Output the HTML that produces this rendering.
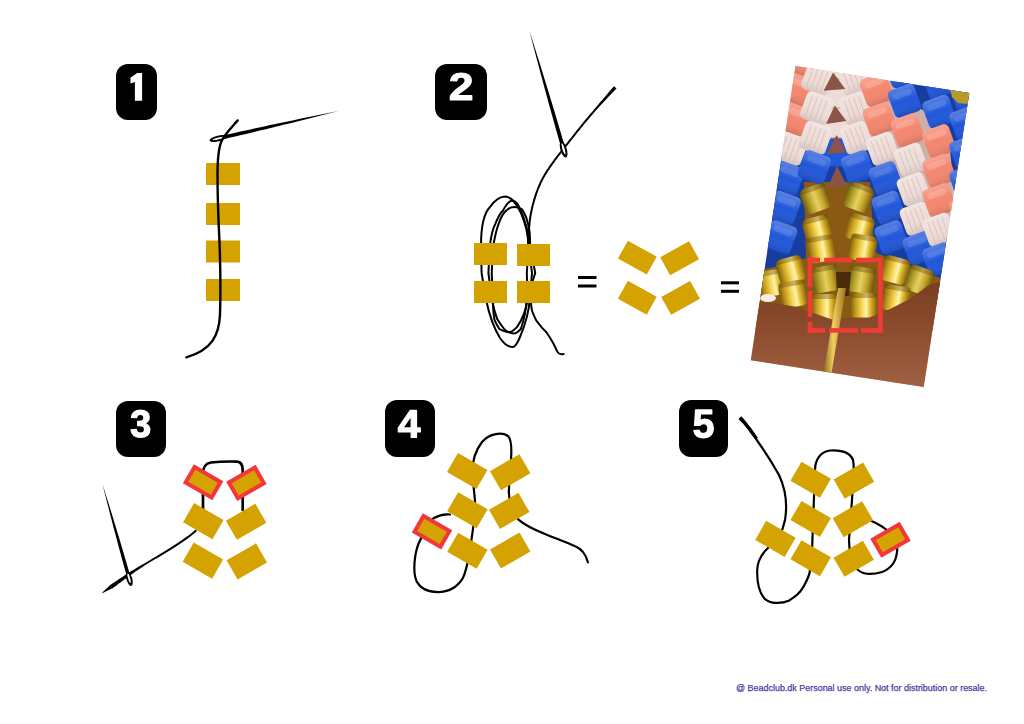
<!DOCTYPE html>
<html><head><meta charset="utf-8"><style>
html,body{margin:0;padding:0;background:#fff;}
body{width:1024px;height:724px;position:relative;overflow:hidden;font-family:"Liberation Sans",sans-serif;}
svg{position:absolute;left:0;top:0;}
</style></head><body>
<svg width="1024" height="724" viewBox="0 0 1024 724">
<clipPath id="pc"><polygon points="795.5,66.0 969.3,92.9 923.7,386.9 750.8,360.2"/></clipPath>
<linearGradient id="brg" x1="0" y1="0" x2="0" y2="1"><stop offset="0" stop-color="#7A3E20"/><stop offset="0.4" stop-color="#8B4B2C"/><stop offset="1" stop-color="#A5654A"/></linearGradient>
<linearGradient id="wire" x1="0" y1="0" x2="1" y2="0"><stop offset="0" stop-color="#8A6418"/><stop offset="0.45" stop-color="#F2CF60"/><stop offset="1" stop-color="#9A7020"/></linearGradient>
<radialGradient id="gb" cx="0.45" cy="0.4" r="0.6"><stop offset="0" stop-color="#FBE58A"/><stop offset="0.35" stop-color="#E2B52E"/><stop offset="0.8" stop-color="#B0851C"/><stop offset="1" stop-color="#7A5614"/></radialGradient>
<radialGradient id="gb2" cx="0.5" cy="0.45" r="0.6"><stop offset="0" stop-color="#E9D27A"/><stop offset="0.4" stop-color="#C8A535"/><stop offset="0.85" stop-color="#9A7A1C"/><stop offset="1" stop-color="#6A4A12"/></radialGradient>
<g clip-path="url(#pc)">
<rect x="740" y="60" width="250" height="340" fill="#CDB0AA"/>
<polygon points="740,165 800,150 836,155 870,150 900,180 930,230 990,250 990,300 740,300" fill="#173E9E"/>
<polygon points="895,70 990,80 990,200 955,200 950,150 935,118 915,105 900,95" fill="#173E9E"/>
<polygon points="804,182 870,182 874,252 945,280 945,330 750,330 750,272 790,264 806,258" fill="#8A5A14"/>
<rect x="822" y="50" width="28" height="28" rx="5" fill="#EEDCD8"/>
<rect x="822" y="79.5" width="28" height="28" rx="5" fill="#EEDCD8"/>
<rect x="822" y="109" width="28" height="28" rx="5" fill="#EEDCD8"/>
<rect x="822" y="138.5" width="28" height="28" rx="5" fill="#2157D8"/>
<linearGradient id="shw" x1="0" y1="0" x2="0" y2="1"><stop offset="0" stop-color="#fff" stop-opacity="0.25"/><stop offset="0.5" stop-color="#fff" stop-opacity="0"/><stop offset="1" stop-color="#000" stop-opacity="0.12"/></linearGradient>
<g transform="translate(760.3,189.3) rotate(20)"><rect x="-14" y="-14.5" width="28" height="29" rx="5" fill="#2157D8"/><rect x="-14" y="-14.5" width="28" height="29" rx="5" fill="url(#shw)"/><rect x="-10" y="-10" width="20" height="6" rx="3" fill="#6A90EC" opacity="0.45"/></g>
<g transform="translate(756.7,218.8) rotate(20)"><rect x="-14" y="-14.5" width="28" height="29" rx="5" fill="#2157D8"/><rect x="-14" y="-14.5" width="28" height="29" rx="5" fill="url(#shw)"/><rect x="-10" y="-10" width="20" height="6" rx="3" fill="#6A90EC" opacity="0.45"/></g>
<g transform="translate(753.2,248.3) rotate(20)"><rect x="-14" y="-14.5" width="28" height="29" rx="5" fill="#2157D8"/><rect x="-14" y="-14.5" width="28" height="29" rx="5" fill="url(#shw)"/><rect x="-10" y="-10" width="20" height="6" rx="3" fill="#6A90EC" opacity="0.45"/></g>
<g transform="translate(763.8,159.8) rotate(20)"><rect x="-14" y="-14.5" width="28" height="29" rx="5" fill="#EEDCD8"/><rect x="-14" y="-14.5" width="28" height="29" rx="5" fill="url(#shw)"/><line x1="-8" y1="-11" x2="-8" y2="11" stroke="#C9ADA7" stroke-width="0.8" opacity="0.6"/><line x1="-3" y1="-11" x2="-3" y2="11" stroke="#C9ADA7" stroke-width="0.8" opacity="0.6"/><line x1="2" y1="-11" x2="2" y2="11" stroke="#C9ADA7" stroke-width="0.8" opacity="0.6"/><line x1="7" y1="-11" x2="7" y2="11" stroke="#C9ADA7" stroke-width="0.8" opacity="0.6"/></g>
<g transform="translate(767.4,130.3) rotate(20)"><rect x="-14" y="-14.5" width="28" height="29" rx="5" fill="#F4866E"/><rect x="-14" y="-14.5" width="28" height="29" rx="5" fill="url(#shw)"/><rect x="-10" y="-10" width="20" height="6" rx="3" fill="#FDBBA8" opacity="0.45"/></g>
<g transform="translate(801.8,60.3) rotate(20)"><rect x="-14" y="-14.5" width="28" height="29" rx="5" fill="#F4866E"/><rect x="-14" y="-14.5" width="28" height="29" rx="5" fill="url(#shw)"/><rect x="-10" y="-10" width="20" height="6" rx="3" fill="#FDBBA8" opacity="0.45"/></g>
<g transform="translate(798.2,89.8) rotate(20)"><rect x="-14" y="-14.5" width="28" height="29" rx="5" fill="#F4866E"/><rect x="-14" y="-14.5" width="28" height="29" rx="5" fill="url(#shw)"/><rect x="-10" y="-10" width="20" height="6" rx="3" fill="#FDBBA8" opacity="0.45"/></g>
<g transform="translate(794.7,119.3) rotate(20)"><rect x="-14" y="-14.5" width="28" height="29" rx="5" fill="#F4866E"/><rect x="-14" y="-14.5" width="28" height="29" rx="5" fill="url(#shw)"/><rect x="-10" y="-10" width="20" height="6" rx="3" fill="#FDBBA8" opacity="0.45"/></g>
<g transform="translate(791.1,148.8) rotate(20)"><rect x="-14" y="-14.5" width="28" height="29" rx="5" fill="#EEDCD8"/><rect x="-14" y="-14.5" width="28" height="29" rx="5" fill="url(#shw)"/><line x1="-8" y1="-11" x2="-8" y2="11" stroke="#C9ADA7" stroke-width="0.8" opacity="0.6"/><line x1="-3" y1="-11" x2="-3" y2="11" stroke="#C9ADA7" stroke-width="0.8" opacity="0.6"/><line x1="2" y1="-11" x2="2" y2="11" stroke="#C9ADA7" stroke-width="0.8" opacity="0.6"/><line x1="7" y1="-11" x2="7" y2="11" stroke="#C9ADA7" stroke-width="0.8" opacity="0.6"/></g>
<g transform="translate(787.6,178.3) rotate(20)"><rect x="-14" y="-14.5" width="28" height="29" rx="5" fill="#2157D8"/><rect x="-14" y="-14.5" width="28" height="29" rx="5" fill="url(#shw)"/><rect x="-10" y="-10" width="20" height="6" rx="3" fill="#6A90EC" opacity="0.45"/></g>
<g transform="translate(784.1,207.8) rotate(20)"><rect x="-14" y="-14.5" width="28" height="29" rx="5" fill="#2157D8"/><rect x="-14" y="-14.5" width="28" height="29" rx="5" fill="url(#shw)"/><rect x="-10" y="-10" width="20" height="6" rx="3" fill="#6A90EC" opacity="0.45"/></g>
<g transform="translate(780.5,237.3) rotate(20)"><rect x="-14" y="-14.5" width="28" height="29" rx="5" fill="#2157D8"/><rect x="-14" y="-14.5" width="28" height="29" rx="5" fill="url(#shw)"/><rect x="-10" y="-10" width="20" height="6" rx="3" fill="#6A90EC" opacity="0.45"/></g>
<g transform="translate(819.0,49.3) rotate(20)"><rect x="-14" y="-14.5" width="28" height="29" rx="5" fill="#EEDCD8"/><rect x="-14" y="-14.5" width="28" height="29" rx="5" fill="url(#shw)"/><line x1="-8" y1="-11" x2="-8" y2="11" stroke="#C9ADA7" stroke-width="0.8" opacity="0.6"/><line x1="-3" y1="-11" x2="-3" y2="11" stroke="#C9ADA7" stroke-width="0.8" opacity="0.6"/><line x1="2" y1="-11" x2="2" y2="11" stroke="#C9ADA7" stroke-width="0.8" opacity="0.6"/><line x1="7" y1="-11" x2="7" y2="11" stroke="#C9ADA7" stroke-width="0.8" opacity="0.6"/></g>
<g transform="translate(817.8,78.8) rotate(20)"><rect x="-14" y="-14.5" width="28" height="29" rx="5" fill="#EEDCD8"/><rect x="-14" y="-14.5" width="28" height="29" rx="5" fill="url(#shw)"/><line x1="-8" y1="-11" x2="-8" y2="11" stroke="#C9ADA7" stroke-width="0.8" opacity="0.6"/><line x1="-3" y1="-11" x2="-3" y2="11" stroke="#C9ADA7" stroke-width="0.8" opacity="0.6"/><line x1="2" y1="-11" x2="2" y2="11" stroke="#C9ADA7" stroke-width="0.8" opacity="0.6"/><line x1="7" y1="-11" x2="7" y2="11" stroke="#C9ADA7" stroke-width="0.8" opacity="0.6"/></g>
<g transform="translate(816.7,108.3) rotate(20)"><rect x="-14" y="-14.5" width="28" height="29" rx="5" fill="#EEDCD8"/><rect x="-14" y="-14.5" width="28" height="29" rx="5" fill="url(#shw)"/><line x1="-8" y1="-11" x2="-8" y2="11" stroke="#C9ADA7" stroke-width="0.8" opacity="0.6"/><line x1="-3" y1="-11" x2="-3" y2="11" stroke="#C9ADA7" stroke-width="0.8" opacity="0.6"/><line x1="2" y1="-11" x2="2" y2="11" stroke="#C9ADA7" stroke-width="0.8" opacity="0.6"/><line x1="7" y1="-11" x2="7" y2="11" stroke="#C9ADA7" stroke-width="0.8" opacity="0.6"/></g>
<g transform="translate(815.5,137.8) rotate(20)"><rect x="-14" y="-14.5" width="28" height="29" rx="5" fill="#EEDCD8"/><rect x="-14" y="-14.5" width="28" height="29" rx="5" fill="url(#shw)"/><line x1="-8" y1="-11" x2="-8" y2="11" stroke="#C9ADA7" stroke-width="0.8" opacity="0.6"/><line x1="-3" y1="-11" x2="-3" y2="11" stroke="#C9ADA7" stroke-width="0.8" opacity="0.6"/><line x1="2" y1="-11" x2="2" y2="11" stroke="#C9ADA7" stroke-width="0.8" opacity="0.6"/><line x1="7" y1="-11" x2="7" y2="11" stroke="#C9ADA7" stroke-width="0.8" opacity="0.6"/></g>
<g transform="translate(814.3,167.3) rotate(20)"><rect x="-14" y="-14.5" width="28" height="29" rx="5" fill="#2157D8"/><rect x="-14" y="-14.5" width="28" height="29" rx="5" fill="url(#shw)"/><rect x="-10" y="-10" width="20" height="6" rx="3" fill="#6A90EC" opacity="0.45"/></g>
<g transform="translate(853.0,49.3) rotate(-20)"><rect x="-14" y="-14.5" width="28" height="29" rx="5" fill="#EEDCD8"/><rect x="-14" y="-14.5" width="28" height="29" rx="5" fill="url(#shw)"/><line x1="-8" y1="-11" x2="-8" y2="11" stroke="#C9ADA7" stroke-width="0.8" opacity="0.6"/><line x1="-3" y1="-11" x2="-3" y2="11" stroke="#C9ADA7" stroke-width="0.8" opacity="0.6"/><line x1="2" y1="-11" x2="2" y2="11" stroke="#C9ADA7" stroke-width="0.8" opacity="0.6"/><line x1="7" y1="-11" x2="7" y2="11" stroke="#C9ADA7" stroke-width="0.8" opacity="0.6"/></g>
<g transform="translate(854.2,78.8) rotate(-20)"><rect x="-14" y="-14.5" width="28" height="29" rx="5" fill="#EEDCD8"/><rect x="-14" y="-14.5" width="28" height="29" rx="5" fill="url(#shw)"/><line x1="-8" y1="-11" x2="-8" y2="11" stroke="#C9ADA7" stroke-width="0.8" opacity="0.6"/><line x1="-3" y1="-11" x2="-3" y2="11" stroke="#C9ADA7" stroke-width="0.8" opacity="0.6"/><line x1="2" y1="-11" x2="2" y2="11" stroke="#C9ADA7" stroke-width="0.8" opacity="0.6"/><line x1="7" y1="-11" x2="7" y2="11" stroke="#C9ADA7" stroke-width="0.8" opacity="0.6"/></g>
<g transform="translate(855.3,108.3) rotate(-20)"><rect x="-14" y="-14.5" width="28" height="29" rx="5" fill="#EEDCD8"/><rect x="-14" y="-14.5" width="28" height="29" rx="5" fill="url(#shw)"/><line x1="-8" y1="-11" x2="-8" y2="11" stroke="#C9ADA7" stroke-width="0.8" opacity="0.6"/><line x1="-3" y1="-11" x2="-3" y2="11" stroke="#C9ADA7" stroke-width="0.8" opacity="0.6"/><line x1="2" y1="-11" x2="2" y2="11" stroke="#C9ADA7" stroke-width="0.8" opacity="0.6"/><line x1="7" y1="-11" x2="7" y2="11" stroke="#C9ADA7" stroke-width="0.8" opacity="0.6"/></g>
<g transform="translate(856.5,137.8) rotate(-20)"><rect x="-14" y="-14.5" width="28" height="29" rx="5" fill="#EEDCD8"/><rect x="-14" y="-14.5" width="28" height="29" rx="5" fill="url(#shw)"/><line x1="-8" y1="-11" x2="-8" y2="11" stroke="#C9ADA7" stroke-width="0.8" opacity="0.6"/><line x1="-3" y1="-11" x2="-3" y2="11" stroke="#C9ADA7" stroke-width="0.8" opacity="0.6"/><line x1="2" y1="-11" x2="2" y2="11" stroke="#C9ADA7" stroke-width="0.8" opacity="0.6"/><line x1="7" y1="-11" x2="7" y2="11" stroke="#C9ADA7" stroke-width="0.8" opacity="0.6"/></g>
<g transform="translate(857.7,167.3) rotate(-20)"><rect x="-14" y="-14.5" width="28" height="29" rx="5" fill="#2157D8"/><rect x="-14" y="-14.5" width="28" height="29" rx="5" fill="url(#shw)"/><rect x="-10" y="-10" width="20" height="6" rx="3" fill="#6A90EC" opacity="0.45"/></g>
<g transform="translate(873.5,60.3) rotate(-20)"><rect x="-14" y="-14.5" width="28" height="29" rx="5" fill="#F4866E"/><rect x="-14" y="-14.5" width="28" height="29" rx="5" fill="url(#shw)"/><rect x="-10" y="-10" width="20" height="6" rx="3" fill="#FDBBA8" opacity="0.45"/></g>
<g transform="translate(876.5,89.8) rotate(-20)"><rect x="-14" y="-14.5" width="28" height="29" rx="5" fill="#F4866E"/><rect x="-14" y="-14.5" width="28" height="29" rx="5" fill="url(#shw)"/><rect x="-10" y="-10" width="20" height="6" rx="3" fill="#FDBBA8" opacity="0.45"/></g>
<g transform="translate(879.4,119.3) rotate(-20)"><rect x="-14" y="-14.5" width="28" height="29" rx="5" fill="#F4866E"/><rect x="-14" y="-14.5" width="28" height="29" rx="5" fill="url(#shw)"/><rect x="-10" y="-10" width="20" height="6" rx="3" fill="#FDBBA8" opacity="0.45"/></g>
<g transform="translate(882.4,148.8) rotate(-20)"><rect x="-14" y="-14.5" width="28" height="29" rx="5" fill="#EEDCD8"/><rect x="-14" y="-14.5" width="28" height="29" rx="5" fill="url(#shw)"/><line x1="-8" y1="-11" x2="-8" y2="11" stroke="#C9ADA7" stroke-width="0.8" opacity="0.6"/><line x1="-3" y1="-11" x2="-3" y2="11" stroke="#C9ADA7" stroke-width="0.8" opacity="0.6"/><line x1="2" y1="-11" x2="2" y2="11" stroke="#C9ADA7" stroke-width="0.8" opacity="0.6"/><line x1="7" y1="-11" x2="7" y2="11" stroke="#C9ADA7" stroke-width="0.8" opacity="0.6"/></g>
<g transform="translate(885.3,178.3) rotate(-20)"><rect x="-14" y="-14.5" width="28" height="29" rx="5" fill="#2157D8"/><rect x="-14" y="-14.5" width="28" height="29" rx="5" fill="url(#shw)"/><rect x="-10" y="-10" width="20" height="6" rx="3" fill="#6A90EC" opacity="0.45"/></g>
<g transform="translate(888.3,207.8) rotate(-20)"><rect x="-14" y="-14.5" width="28" height="29" rx="5" fill="#2157D8"/><rect x="-14" y="-14.5" width="28" height="29" rx="5" fill="url(#shw)"/><rect x="-10" y="-10" width="20" height="6" rx="3" fill="#6A90EC" opacity="0.45"/></g>
<g transform="translate(891.2,237.3) rotate(-20)"><rect x="-14" y="-14.5" width="28" height="29" rx="5" fill="#2157D8"/><rect x="-14" y="-14.5" width="28" height="29" rx="5" fill="url(#shw)"/><rect x="-10" y="-10" width="20" height="6" rx="3" fill="#6A90EC" opacity="0.45"/></g>
<g transform="translate(901.6,71.3) rotate(-20)"><rect x="-14" y="-14.5" width="28" height="29" rx="5" fill="#2157D8"/><rect x="-14" y="-14.5" width="28" height="29" rx="5" fill="url(#shw)"/><rect x="-10" y="-10" width="20" height="6" rx="3" fill="#6A90EC" opacity="0.45"/></g>
<g transform="translate(904.6,100.8) rotate(-20)"><rect x="-14" y="-14.5" width="28" height="29" rx="5" fill="#2157D8"/><rect x="-14" y="-14.5" width="28" height="29" rx="5" fill="url(#shw)"/><rect x="-10" y="-10" width="20" height="6" rx="3" fill="#6A90EC" opacity="0.45"/></g>
<g transform="translate(907.5,130.3) rotate(-20)"><rect x="-14" y="-14.5" width="28" height="29" rx="5" fill="#F4866E"/><rect x="-14" y="-14.5" width="28" height="29" rx="5" fill="url(#shw)"/><rect x="-10" y="-10" width="20" height="6" rx="3" fill="#FDBBA8" opacity="0.45"/></g>
<g transform="translate(910.5,159.8) rotate(-20)"><rect x="-14" y="-14.5" width="28" height="29" rx="5" fill="#EEDCD8"/><rect x="-14" y="-14.5" width="28" height="29" rx="5" fill="url(#shw)"/><line x1="-8" y1="-11" x2="-8" y2="11" stroke="#C9ADA7" stroke-width="0.8" opacity="0.6"/><line x1="-3" y1="-11" x2="-3" y2="11" stroke="#C9ADA7" stroke-width="0.8" opacity="0.6"/><line x1="2" y1="-11" x2="2" y2="11" stroke="#C9ADA7" stroke-width="0.8" opacity="0.6"/><line x1="7" y1="-11" x2="7" y2="11" stroke="#C9ADA7" stroke-width="0.8" opacity="0.6"/></g>
<g transform="translate(913.4,189.3) rotate(-20)"><rect x="-14" y="-14.5" width="28" height="29" rx="5" fill="#EEDCD8"/><rect x="-14" y="-14.5" width="28" height="29" rx="5" fill="url(#shw)"/><line x1="-8" y1="-11" x2="-8" y2="11" stroke="#C9ADA7" stroke-width="0.8" opacity="0.6"/><line x1="-3" y1="-11" x2="-3" y2="11" stroke="#C9ADA7" stroke-width="0.8" opacity="0.6"/><line x1="2" y1="-11" x2="2" y2="11" stroke="#C9ADA7" stroke-width="0.8" opacity="0.6"/><line x1="7" y1="-11" x2="7" y2="11" stroke="#C9ADA7" stroke-width="0.8" opacity="0.6"/></g>
<g transform="translate(916.4,218.8) rotate(-20)"><rect x="-14" y="-14.5" width="28" height="29" rx="5" fill="#EEDCD8"/><rect x="-14" y="-14.5" width="28" height="29" rx="5" fill="url(#shw)"/><line x1="-8" y1="-11" x2="-8" y2="11" stroke="#C9ADA7" stroke-width="0.8" opacity="0.6"/><line x1="-3" y1="-11" x2="-3" y2="11" stroke="#C9ADA7" stroke-width="0.8" opacity="0.6"/><line x1="2" y1="-11" x2="2" y2="11" stroke="#C9ADA7" stroke-width="0.8" opacity="0.6"/><line x1="7" y1="-11" x2="7" y2="11" stroke="#C9ADA7" stroke-width="0.8" opacity="0.6"/></g>
<g transform="translate(919.3,248.3) rotate(-20)"><rect x="-14" y="-14.5" width="28" height="29" rx="5" fill="#2157D8"/><rect x="-14" y="-14.5" width="28" height="29" rx="5" fill="url(#shw)"/><rect x="-10" y="-10" width="20" height="6" rx="3" fill="#6A90EC" opacity="0.45"/></g>
<g transform="translate(939.0,82.3) rotate(-20)"><rect x="-14" y="-14.5" width="28" height="29" rx="5" fill="#2157D8"/><rect x="-14" y="-14.5" width="28" height="29" rx="5" fill="url(#shw)"/><rect x="-10" y="-10" width="20" height="6" rx="3" fill="#6A90EC" opacity="0.45"/></g>
<g transform="translate(939.0,111.8) rotate(-20)"><rect x="-14" y="-14.5" width="28" height="29" rx="5" fill="#2157D8"/><rect x="-14" y="-14.5" width="28" height="29" rx="5" fill="url(#shw)"/><rect x="-10" y="-10" width="20" height="6" rx="3" fill="#6A90EC" opacity="0.45"/></g>
<g transform="translate(939.0,141.3) rotate(-20)"><rect x="-14" y="-14.5" width="28" height="29" rx="5" fill="#F4866E"/><rect x="-14" y="-14.5" width="28" height="29" rx="5" fill="url(#shw)"/><rect x="-10" y="-10" width="20" height="6" rx="3" fill="#FDBBA8" opacity="0.45"/></g>
<g transform="translate(939.0,170.8) rotate(-20)"><rect x="-14" y="-14.5" width="28" height="29" rx="5" fill="#F4866E"/><rect x="-14" y="-14.5" width="28" height="29" rx="5" fill="url(#shw)"/><rect x="-10" y="-10" width="20" height="6" rx="3" fill="#FDBBA8" opacity="0.45"/></g>
<g transform="translate(939.0,200.3) rotate(-20)"><rect x="-14" y="-14.5" width="28" height="29" rx="5" fill="#F4866E"/><rect x="-14" y="-14.5" width="28" height="29" rx="5" fill="url(#shw)"/><rect x="-10" y="-10" width="20" height="6" rx="3" fill="#FDBBA8" opacity="0.45"/></g>
<g transform="translate(939.0,229.8) rotate(-20)"><rect x="-14" y="-14.5" width="28" height="29" rx="5" fill="#EEDCD8"/><rect x="-14" y="-14.5" width="28" height="29" rx="5" fill="url(#shw)"/><line x1="-8" y1="-11" x2="-8" y2="11" stroke="#C9ADA7" stroke-width="0.8" opacity="0.6"/><line x1="-3" y1="-11" x2="-3" y2="11" stroke="#C9ADA7" stroke-width="0.8" opacity="0.6"/><line x1="2" y1="-11" x2="2" y2="11" stroke="#C9ADA7" stroke-width="0.8" opacity="0.6"/><line x1="7" y1="-11" x2="7" y2="11" stroke="#C9ADA7" stroke-width="0.8" opacity="0.6"/></g>
<g transform="translate(939.0,259.3) rotate(-20)"><rect x="-14" y="-14.5" width="28" height="29" rx="5" fill="#2157D8"/><rect x="-14" y="-14.5" width="28" height="29" rx="5" fill="url(#shw)"/><rect x="-10" y="-10" width="20" height="6" rx="3" fill="#6A90EC" opacity="0.45"/></g>
<g transform="translate(966.0,63.8) rotate(-20)"><rect x="-14" y="-14.5" width="28" height="29" rx="5" fill="#2157D8"/><rect x="-14" y="-14.5" width="28" height="29" rx="5" fill="url(#shw)"/><rect x="-10" y="-10" width="20" height="6" rx="3" fill="#6A90EC" opacity="0.45"/></g>
<g transform="translate(966.0,93.3) rotate(-20)"><rect x="-14" y="-14.5" width="28" height="29" rx="5" fill="#2157D8"/><rect x="-14" y="-14.5" width="28" height="29" rx="5" fill="url(#shw)"/><rect x="-10" y="-10" width="20" height="6" rx="3" fill="#6A90EC" opacity="0.45"/></g>
<g transform="translate(966.0,122.8) rotate(-20)"><rect x="-14" y="-14.5" width="28" height="29" rx="5" fill="#2157D8"/><rect x="-14" y="-14.5" width="28" height="29" rx="5" fill="url(#shw)"/><rect x="-10" y="-10" width="20" height="6" rx="3" fill="#6A90EC" opacity="0.45"/></g>
<g transform="translate(966.0,152.3) rotate(-20)"><rect x="-14" y="-14.5" width="28" height="29" rx="5" fill="#2157D8"/><rect x="-14" y="-14.5" width="28" height="29" rx="5" fill="url(#shw)"/><rect x="-10" y="-10" width="20" height="6" rx="3" fill="#6A90EC" opacity="0.45"/></g>
<g transform="translate(966.0,181.8) rotate(-20)"><rect x="-14" y="-14.5" width="28" height="29" rx="5" fill="#2157D8"/><rect x="-14" y="-14.5" width="28" height="29" rx="5" fill="url(#shw)"/><rect x="-10" y="-10" width="20" height="6" rx="3" fill="#6A90EC" opacity="0.45"/></g>
<g transform="translate(966.0,211.3) rotate(-20)"><rect x="-14" y="-14.5" width="28" height="29" rx="5" fill="#F4866E"/><rect x="-14" y="-14.5" width="28" height="29" rx="5" fill="url(#shw)"/><rect x="-10" y="-10" width="20" height="6" rx="3" fill="#FDBBA8" opacity="0.45"/></g>
<g transform="translate(966.0,240.8) rotate(-20)"><rect x="-14" y="-14.5" width="28" height="29" rx="5" fill="#EEDCD8"/><rect x="-14" y="-14.5" width="28" height="29" rx="5" fill="url(#shw)"/><line x1="-8" y1="-11" x2="-8" y2="11" stroke="#C9ADA7" stroke-width="0.8" opacity="0.6"/><line x1="-3" y1="-11" x2="-3" y2="11" stroke="#C9ADA7" stroke-width="0.8" opacity="0.6"/><line x1="2" y1="-11" x2="2" y2="11" stroke="#C9ADA7" stroke-width="0.8" opacity="0.6"/><line x1="7" y1="-11" x2="7" y2="11" stroke="#C9ADA7" stroke-width="0.8" opacity="0.6"/></g>
<g transform="translate(966.0,270.3) rotate(-20)"><rect x="-14" y="-14.5" width="28" height="29" rx="5" fill="#EEDCD8"/><rect x="-14" y="-14.5" width="28" height="29" rx="5" fill="url(#shw)"/><line x1="-8" y1="-11" x2="-8" y2="11" stroke="#C9ADA7" stroke-width="0.8" opacity="0.6"/><line x1="-3" y1="-11" x2="-3" y2="11" stroke="#C9ADA7" stroke-width="0.8" opacity="0.6"/><line x1="2" y1="-11" x2="2" y2="11" stroke="#C9ADA7" stroke-width="0.8" opacity="0.6"/><line x1="7" y1="-11" x2="7" y2="11" stroke="#C9ADA7" stroke-width="0.8" opacity="0.6"/></g>
<polygon points="950,88 972,91 968,104 958,103 952,97" fill="#B89A2A"/>
<polygon points="833.1,72.5 845.3,89.1 823.7,90.7" fill="#8C5446"/>
<polygon points="834.8,105.6 846.4,121.1 826.0,123.9" fill="#8C5446"/>
<polygon points="836.6,135.0 846.0,152.5 827.0,154.0" fill="#8C5446"/>
<polygon points="837.0,166.0 847.0,186.0 828.0,187.0" fill="#8C5446"/>
<linearGradient id="gcyl" x1="0" y1="0" x2="1" y2="0"><stop offset="0" stop-color="#7A5A0E"/><stop offset="0.22" stop-color="#C8A020"/><stop offset="0.45" stop-color="#F6DA58"/><stop offset="0.6" stop-color="#FFF3B0"/><stop offset="0.75" stop-color="#E2B82A"/><stop offset="1" stop-color="#80600E"/></linearGradient>
<linearGradient id="gcyl2" x1="0" y1="0" x2="1" y2="0"><stop offset="0" stop-color="#6E5A10"/><stop offset="0.25" stop-color="#B0A028"/><stop offset="0.5" stop-color="#E8D060"/><stop offset="0.75" stop-color="#C0A028"/><stop offset="1" stop-color="#6E5410"/></linearGradient>
<g transform="translate(815.5,198.7) rotate(-20)"><rect x="-13.5" y="-13" width="27" height="26" rx="6" fill="url(#gcyl2)"/><rect x="-13.5" y="-13" width="27" height="5" rx="2.5" fill="#5A3A08" opacity="0.35"/></g>
<g transform="translate(858.5,197.4) rotate(20)"><rect x="-13.5" y="-13" width="27" height="26" rx="6" fill="url(#gcyl2)"/><rect x="-13.5" y="-13" width="27" height="5" rx="2.5" fill="#5A3A08" opacity="0.35"/></g>
<g transform="translate(817.4,229.7) rotate(-15)"><rect x="-13.5" y="-13" width="27" height="26" rx="6" fill="url(#gcyl)"/><rect x="-13.5" y="-13" width="27" height="5" rx="2.5" fill="#5A3A08" opacity="0.35"/></g>
<g transform="translate(859.7,228) rotate(15)"><rect x="-13.5" y="-13" width="27" height="26" rx="6" fill="url(#gcyl)"/><rect x="-13.5" y="-13" width="27" height="5" rx="2.5" fill="#5A3A08" opacity="0.35"/></g>
<g transform="translate(821,249) rotate(-10)"><rect x="-13.5" y="-13" width="27" height="26" rx="6" fill="url(#gcyl)"/><rect x="-13.5" y="-13" width="27" height="5" rx="2.5" fill="#5A3A08" opacity="0.35"/></g>
<g transform="translate(862.6,248) rotate(10)"><rect x="-13.5" y="-13" width="27" height="26" rx="6" fill="url(#gcyl)"/><rect x="-13.5" y="-13" width="27" height="5" rx="2.5" fill="#5A3A08" opacity="0.35"/></g>
<g transform="translate(772,283) rotate(-10)"><rect x="-13.5" y="-13" width="27" height="26" rx="6" fill="url(#gcyl)"/><rect x="-13.5" y="-13" width="27" height="5" rx="2.5" fill="#5A3A08" opacity="0.35"/></g>
<g transform="translate(791,270) rotate(-15)"><rect x="-13.5" y="-13" width="27" height="26" rx="6" fill="url(#gcyl)"/><rect x="-13.5" y="-13" width="27" height="5" rx="2.5" fill="#5A3A08" opacity="0.35"/></g>
<g transform="translate(793,294) rotate(-10)"><rect x="-13.5" y="-13" width="27" height="26" rx="6" fill="url(#gcyl)"/><rect x="-13.5" y="-13" width="27" height="5" rx="2.5" fill="#5A3A08" opacity="0.35"/></g>
<g transform="translate(919,280) rotate(20)"><rect x="-13.5" y="-13" width="27" height="26" rx="6" fill="url(#gcyl2)"/><rect x="-13.5" y="-13" width="27" height="5" rx="2.5" fill="#5A3A08" opacity="0.35"/></g>
<g transform="translate(895,270) rotate(15)"><rect x="-13.5" y="-13" width="27" height="26" rx="6" fill="url(#gcyl)"/><rect x="-13.5" y="-13" width="27" height="5" rx="2.5" fill="#5A3A08" opacity="0.35"/></g>
<g transform="translate(896,298.5) rotate(10)"><rect x="-13.5" y="-13" width="27" height="26" rx="6" fill="url(#gcyl)"/><rect x="-13.5" y="-13" width="27" height="5" rx="2.5" fill="#5A3A08" opacity="0.35"/></g>
<g transform="translate(825.5,279) rotate(-10)"><rect x="-13.5" y="-13" width="27" height="26" rx="6" fill="url(#gcyl2)"/><rect x="-13.5" y="-13" width="27" height="5" rx="2.5" fill="#5A3A08" opacity="0.35"/></g>
<g transform="translate(861,280) rotate(10)"><rect x="-13.5" y="-13" width="27" height="26" rx="6" fill="url(#gcyl2)"/><rect x="-13.5" y="-13" width="27" height="5" rx="2.5" fill="#5A3A08" opacity="0.35"/></g>
<g transform="translate(824.5,307) rotate(0)"><rect x="-13.5" y="-13" width="27" height="26" rx="6" fill="url(#gcyl)"/><rect x="-13.5" y="-13" width="27" height="5" rx="2.5" fill="#5A3A08" opacity="0.35"/></g>
<g transform="translate(863.5,306) rotate(0)"><rect x="-13.5" y="-13" width="27" height="26" rx="6" fill="url(#gcyl)"/><rect x="-13.5" y="-13" width="27" height="5" rx="2.5" fill="#5A3A08" opacity="0.35"/></g>
<polygon points="836,272 851,272 849,296 837,296" fill="#3A2008" opacity="0.8"/>
<polygon points="740.0,302.0 772.0,302.5 796.8,307.0 813.4,313.0 832.0,319.5 848.6,317.5 869.4,317.5 890.0,309.0 910.8,298.5 927.4,286.0 945.0,280.0 990.0,280.0 990.0,400.0 740.0,400.0" fill="url(#brg)"/>
<ellipse cx="768" cy="298" rx="8" ry="4" fill="#F4ECE6"/>
<path d="M838,288 L846,288 L831,376 L823,376 Z" fill="url(#wire)"/>
</g>
<line x1="807.7" y1="260" x2="820" y2="260" stroke="#F23A36" stroke-width="4.6"/>
<line x1="824.2" y1="260" x2="852.2" y2="260" stroke="#F23A36" stroke-width="4.6"/>
<line x1="856" y1="260" x2="882.7" y2="260" stroke="#F23A36" stroke-width="4.6"/>
<line x1="810" y1="257.7" x2="810" y2="287.3" stroke="#F23A36" stroke-width="4.6"/>
<line x1="810" y1="291" x2="810" y2="317" stroke="#F23A36" stroke-width="4.6"/>
<line x1="810" y1="322" x2="810" y2="332.7" stroke="#F23A36" stroke-width="4.6"/>
<line x1="880.4" y1="257.7" x2="880.4" y2="332.7" stroke="#F23A36" stroke-width="4.6"/>
<line x1="807.7" y1="330.4" x2="825" y2="330.4" stroke="#F23A36" stroke-width="4.6"/>
<line x1="829" y1="330.4" x2="858" y2="330.4" stroke="#F23A36" stroke-width="4.6"/>
<line x1="861" y1="330.4" x2="882.7" y2="330.4" stroke="#F23A36" stroke-width="4.6"/>
<rect x="116" y="64" width="41" height="56" rx="12" ry="12" fill="#000"/>
<path d="M142.1,73 L137.2,73 L130.5,77.7 L130.5,83.4 L134.9,81.9 L134.9,100.8 L142.1,100.8 Z" fill="#fff"/>
<rect x="435" y="64" width="52" height="56" rx="12" ry="12" fill="#000"/>
<path d="M71 0V195Q126 316 227.5 431.0Q329 546 483 671Q631 791 690.5 869.0Q750 947 750 1022Q750 1206 565 1206Q475 1206 427.5 1157.5Q380 1109 366 1012L83 1028Q107 1224 229.5 1327.0Q352 1430 563 1430Q791 1430 913.0 1326.0Q1035 1222 1035 1034Q1035 935 996.0 855.0Q957 775 896.0 707.5Q835 640 760.5 581.0Q686 522 616.0 466.0Q546 410 488.5 353.0Q431 296 403 231H1057V0Z" transform="translate(448.752,100.000) scale(0.021805,-0.018881)" fill="#fff" stroke="#fff" stroke-width="1.2" vector-effect="non-scaling-stroke" stroke-linejoin="round"/>
<rect x="116" y="401" width="50" height="56" rx="12" ry="12" fill="#000"/>
<path d="M1065 391Q1065 193 935.0 85.0Q805 -23 565 -23Q338 -23 204.0 81.5Q70 186 47 383L333 408Q360 205 564 205Q665 205 721.0 255.0Q777 305 777 408Q777 502 709.0 552.0Q641 602 507 602H409V829H501Q622 829 683.0 878.5Q744 928 744 1020Q744 1107 695.5 1156.5Q647 1206 554 1206Q467 1206 413.5 1158.0Q360 1110 352 1022L71 1042Q93 1224 222.0 1327.0Q351 1430 559 1430Q780 1430 904.5 1330.5Q1029 1231 1029 1055Q1029 923 951.5 838.0Q874 753 728 725V721Q890 702 977.5 614.5Q1065 527 1065 391Z" transform="translate(130.023,436.968) scale(0.018664,-0.018789)" fill="#fff" stroke="#fff" stroke-width="1.2" vector-effect="non-scaling-stroke" stroke-linejoin="round"/>
<rect x="385" y="400" width="50" height="57" rx="12" ry="12" fill="#000"/>
<path d="M940 287V0H672V287H31V498L626 1409H940V496H1128V287ZM672 957Q672 1011 675.5 1074.0Q679 1137 681 1155Q655 1099 587 993L260 496H672Z" transform="translate(397.678,437.400) scale(0.020055,-0.019163)" fill="#fff" stroke="#fff" stroke-width="1.2" vector-effect="non-scaling-stroke" stroke-linejoin="round"/>
<rect x="679" y="400" width="49" height="57" rx="12" ry="12" fill="#000"/>
<path d="M1082 469Q1082 245 942.5 112.5Q803 -20 560 -20Q348 -20 220.5 75.5Q93 171 63 352L344 375Q366 285 422.0 244.0Q478 203 563 203Q668 203 730.5 270.0Q793 337 793 463Q793 574 734.0 640.5Q675 707 569 707Q452 707 378 616H104L153 1409H1000V1200H408L385 844Q487 934 640 934Q841 934 961.5 809.0Q1082 684 1082 469Z" transform="translate(692.588,437.410) scale(0.019235,-0.019524)" fill="#fff" stroke="#fff" stroke-width="1.2" vector-effect="non-scaling-stroke" stroke-linejoin="round"/>
<rect x="206" y="163" width="34" height="22" fill="#D4A302"/>
<rect x="206" y="203" width="34" height="22" fill="#D4A302"/>
<rect x="206" y="240.5" width="34" height="22" fill="#D4A302"/>
<rect x="206" y="279" width="34" height="22" fill="#D4A302"/>
<path d="M220.44,139.90 L225.38,138.76 L230.31,137.62 L235.24,136.47 L240.17,135.31 L245.10,134.14 L250.02,132.97 L254.95,131.80 L259.87,130.62 L264.80,129.43 L269.72,128.23 L274.64,127.04 L279.56,125.83 L284.48,124.62 L289.39,123.41 L294.31,122.19 L299.22,120.97 L304.14,119.74 L309.05,118.50 L313.96,117.26 L318.87,116.02 L323.78,114.77 L328.69,113.52 L333.59,112.26 L338.50,111.00 L338.50,111.00 L333.53,112.00 L328.57,113.00 L323.60,114.00 L318.64,115.01 L313.68,116.03 L308.72,117.04 L303.76,118.07 L298.80,119.10 L293.84,120.13 L288.88,121.17 L283.92,122.21 L278.97,123.26 L274.02,124.31 L269.06,125.37 L264.11,126.44 L259.16,127.51 L254.21,128.58 L249.27,129.66 L244.32,130.75 L239.38,131.85 L234.43,132.95 L229.49,134.05 L224.55,135.17 L219.62,136.29Z" fill="#000"/>
<ellipse cx="218.3" cy="138.5" rx="9.0" ry="2.9" transform="rotate(-12.9 218.3 138.5)" fill="#000"/>
<ellipse cx="218.8" cy="138.4" rx="6.4" ry="0.8" transform="rotate(-12.9 218.8 138.4)" fill="#fff"/>
<path d="M237.7,120.4 C232,127 226,133 222,140 C219,146 217.5,160 217.5,175 C217.5,200 218.5,222 219.5,242 C220.5,270 220.5,300 220,315 C219,335 212,350 186.4,357.3" fill="none" stroke="#000" stroke-width="2.4" stroke-linecap="round" stroke-linejoin="round"/>
<path d="M481,246 C481,232 483,214 490,207 C495,200 500,196.6 505.4,196.6 C511,197 517,204 521,213 C525,222 528,232 528.6,246 L532,273 L529.6,300 C529,312 525,325 520,337 C517,344 515,347 513,347 C509,347 504,344 500,338 C495,330 490,318 486.1,300 L481.6,273 Z" fill="none" stroke="#000" stroke-width="2.0" stroke-linecap="round" stroke-linejoin="round"/>
<path d="M489.9,246 C491,236 493,228 495.4,223.7 C498,217 500,213 503,210.4 C506,205 509,200.5 512.5,200.5 C515,201 516,202 517.5,203.8 C520,208 521,212 523,216 C525,222 527,228 527.5,231.4 L528.6,246 L526.8,273 L527.6,300 C526,310 522,320 516.9,327.1 C514,330 512,332 510,332 C507,332 505,330 504.2,329 C501,325 499,322 497.3,319.3 C495,313 493,306 492,300 L488.4,273 Z" fill="none" stroke="#000" stroke-width="2.0" stroke-linecap="round" stroke-linejoin="round"/>
<path d="M493.2,246 C495,236 497,228 498.7,223.7 C501,217 503,213 506.5,210.4 C509,208 511,207 514.2,207 C517,207 520,208 522,209.3 C524,212 525,215 526.4,218 C528,223 529,228 529.7,232.5 L530.2,246 L535.2,273 L526.6,300 C526,310 524,320 520.8,329 C518,332 516,333.5 514,333.5 C510,333 508,332 507.1,332 C503,331 501,330 499.3,329 C497,325 495,322 494.4,319.3 C493,312 493,306 493,300 L491.7,273 Z" fill="none" stroke="#000" stroke-width="2.0" stroke-linecap="round" stroke-linejoin="round"/>
<path d="M531,300 C531,308 532,312 533.5,314.4 C535,318 536,321 538.4,323.2 C541,327 543,329 546.2,332 C549,336 551,339 553,342.7 C555,346 556,350 557.9,352.5 C559,354 561,354.5 563.7,354" fill="none" stroke="#000" stroke-width="2.0" stroke-linecap="round" stroke-linejoin="round"/>
<path d="M614.05,86.15 L612.56,87.86 L611.07,89.58 L609.59,91.29 L608.11,93.01 L606.63,94.72 L605.16,96.44 L603.69,98.17 L602.23,99.89 L600.77,101.61 L599.31,103.34 L597.86,105.06 L596.42,106.79 L594.96,108.50 L593.49,110.19 L592.03,111.88 L590.57,113.58 L589.13,115.28 L587.69,116.97 L586.26,118.67 L584.84,120.37 L583.42,122.07 L582.02,123.77 L580.63,125.47 L579.25,127.17 L577.88,128.88 L576.52,130.58 L575.17,132.28 L573.84,133.99 L572.52,135.69 L571.21,137.38 L569.64,139.36 L568.09,141.30 L566.57,143.20 L565.08,145.07 L563.63,146.90 L562.22,148.70 L560.84,150.47 L559.49,152.20 L558.17,153.91 L556.89,155.58 L555.65,157.23 L554.44,158.84 L553.26,160.44 L552.12,162.00 L551.01,163.55 L549.94,165.07 L548.90,166.56 L547.90,168.04 L546.93,169.50 L546.00,170.94 L545.11,172.37 L544.25,173.78 L543.42,175.17 L542.63,176.55 L541.88,177.92 L541.17,179.28 L540.49,180.62 L539.85,181.96 L539.24,183.29 L538.68,184.60 L538.23,185.61 L537.77,186.67 L537.31,187.76 L536.87,188.88 L536.42,190.02 L535.99,191.19 L535.56,192.37 L535.14,193.58 L534.73,194.81 L534.33,196.05 L533.93,197.30 L533.54,198.57 L533.17,199.85 L532.80,201.13 L532.45,202.43 L532.10,203.73 L531.77,205.03 L531.45,206.33 L531.14,207.63 L530.85,208.93 L530.56,210.23 L530.30,211.52 L530.04,212.80 L529.80,214.07 L529.58,215.33 L529.37,216.57 L529.18,217.81 L529.00,219.02 L528.85,220.21 L528.71,221.39 L528.62,222.25 L528.53,223.10 L528.45,223.94 L528.38,224.79 L528.31,225.63 L528.24,226.47 L528.18,227.30 L528.12,228.13 L528.07,228.96 L528.02,229.79 L527.97,230.62 L527.93,231.44 L527.88,232.26 L527.85,233.08 L527.81,233.90 L527.78,234.71 L527.75,235.53 L527.73,236.34 L527.71,237.15 L527.69,237.96 L527.67,238.77 L527.65,239.57 L527.64,240.38 L527.63,241.18 L527.62,241.99 L527.61,242.79 L527.61,243.59 L527.60,244.40 L527.60,245.20 L527.60,246.00 L529.60,246.00 L529.60,245.20 L529.60,244.40 L529.61,243.61 L529.61,242.81 L529.62,242.01 L529.63,241.21 L529.64,240.41 L529.65,239.61 L529.67,238.81 L529.68,238.00 L529.70,237.20 L529.73,236.40 L529.75,235.59 L529.78,234.79 L529.81,233.98 L529.85,233.17 L529.88,232.36 L529.92,231.54 L529.97,230.73 L530.01,229.91 L530.06,229.09 L530.12,228.27 L530.18,227.45 L530.24,226.62 L530.30,225.79 L530.37,224.96 L530.45,224.13 L530.52,223.29 L530.61,222.45 L530.69,221.61 L530.83,220.46 L530.99,219.29 L531.16,218.10 L531.35,216.89 L531.55,215.67 L531.77,214.43 L532.01,213.18 L532.26,211.91 L532.52,210.64 L532.80,209.37 L533.09,208.08 L533.39,206.80 L533.71,205.51 L534.04,204.23 L534.38,202.95 L534.73,201.67 L535.09,200.40 L535.46,199.14 L535.84,197.89 L536.23,196.66 L536.63,195.43 L537.03,194.23 L537.45,193.04 L537.87,191.88 L538.29,190.73 L538.73,189.61 L539.17,188.52 L539.61,187.45 L540.06,186.42 L540.52,185.40 L541.07,184.10 L541.66,182.81 L542.28,181.51 L542.95,180.19 L543.64,178.87 L544.38,177.53 L545.15,176.18 L545.96,174.81 L546.81,173.42 L547.69,172.02 L548.61,170.60 L549.56,169.16 L550.55,167.69 L551.58,166.21 L552.64,164.70 L553.74,163.17 L554.87,161.62 L556.04,160.04 L557.25,158.43 L558.48,156.79 L559.76,155.12 L561.07,153.43 L562.41,151.70 L563.79,149.94 L565.20,148.14 L566.65,146.31 L568.13,144.45 L569.65,142.54 L571.20,140.60 L572.79,138.62 L574.10,136.91 L575.41,135.22 L576.74,133.52 L578.09,131.82 L579.44,130.13 L580.80,128.43 L582.18,126.74 L583.57,125.04 L584.96,123.35 L586.37,121.65 L587.79,119.96 L589.21,118.26 L590.65,116.57 L592.09,114.88 L593.55,113.19 L595.00,111.50 L596.47,109.81 L597.96,108.14 L599.48,106.49 L601.01,104.84 L602.55,103.19 L604.09,101.55 L605.63,99.91 L607.18,98.26 L608.73,96.62 L610.29,94.98 L611.85,93.35 L613.42,91.71 L614.98,90.08 L616.55,88.45Z" fill="#000"/>
<rect x="474" y="243" width="33" height="22" fill="#D4A302"/>
<rect x="517" y="244" width="33" height="22" fill="#D4A302"/>
<rect x="474" y="281" width="33" height="22" fill="#D4A302"/>
<rect x="517" y="281" width="33" height="22" fill="#D4A302"/>
<path d="M565.00,147.17 L563.58,142.29 L562.15,137.40 L560.72,132.52 L559.28,127.64 L557.83,122.77 L556.38,117.89 L554.92,113.02 L553.45,108.15 L551.98,103.28 L550.51,98.41 L549.02,93.54 L547.54,88.67 L546.04,83.81 L544.55,78.95 L543.04,74.09 L541.54,69.23 L540.02,64.37 L538.51,59.51 L536.98,54.66 L535.46,49.80 L533.92,44.95 L532.39,40.10 L530.85,35.25 L529.30,30.40 L529.30,30.40 L530.58,35.33 L531.86,40.25 L533.14,45.18 L534.43,50.10 L535.73,55.02 L537.03,59.94 L538.33,64.86 L539.64,69.77 L540.96,74.69 L542.28,79.60 L543.60,84.51 L544.93,89.43 L546.27,94.34 L547.61,99.24 L548.96,104.15 L550.31,109.05 L551.66,113.96 L553.03,118.86 L554.40,123.76 L555.77,128.66 L557.15,133.55 L558.54,138.45 L559.94,143.34 L561.34,148.23Z" fill="#000"/>
<ellipse cx="563.6" cy="149.3" rx="8.5" ry="3.2" transform="rotate(-106.1 563.6 149.3)" fill="#000"/>
<ellipse cx="563.5" cy="148.9" rx="5.9" ry="1.1" transform="rotate(-106.1 563.5 148.9)" fill="#fff"/>
<rect x="578" y="276" width="18.5" height="3" fill="#000"/><rect x="578" y="284.5" width="18.5" height="3" fill="#000"/>
<rect x="721" y="281.3" width="18" height="3" fill="#000"/><rect x="721" y="289.8" width="18" height="3" fill="#000"/>
<rect x="-16.5" y="-10.25" width="33" height="20.5" fill="#D4A302" transform="translate(637.3,257.6) rotate(29)"/>
<rect x="-16.5" y="-10.25" width="33" height="20.5" fill="#D4A302" transform="translate(679.6,258.2) rotate(-29)"/>
<rect x="-16.5" y="-10.25" width="33" height="20.5" fill="#D4A302" transform="translate(637.3,297.7) rotate(29)"/>
<rect x="-16.5" y="-10.25" width="33" height="20.5" fill="#D4A302" transform="translate(680.6,297.9) rotate(-29)"/>
<path d="M203,510 L203,474 C203,467 205,463.5 211,462.5 C220,461.5 230,461.4 237,461.6 C241,462 242.7,465 242.7,470 L242.7,510" fill="none" stroke="#000" stroke-width="2.7" stroke-linecap="round" stroke-linejoin="round"/>
<path d="M195.64,529.55 L193.97,531.01 L192.23,532.47 L190.40,533.93 L188.50,535.40 L186.52,536.87 L184.47,538.34 L182.36,539.81 L180.19,541.29 L177.97,542.77 L175.69,544.25 L173.38,545.73 L171.02,547.22 L168.63,548.70 L166.21,550.19 L163.77,551.68 L161.30,553.17 L158.83,554.67 L156.34,556.16 L153.84,557.66 L151.35,559.15 L148.86,560.65 L146.38,562.15 L143.91,563.65 L141.42,565.08 L138.96,566.53 L136.52,567.97 L134.12,569.41 L131.76,570.86 L129.43,572.31 L127.16,573.76 L126.12,574.45 L125.11,575.12 L124.09,575.79 L123.08,576.46 L122.07,577.13 L121.07,577.79 L120.08,578.45 L119.09,579.11 L118.11,579.76 L117.13,580.40 L116.17,581.03 L115.22,581.66 L114.29,582.28 L113.36,582.89 L112.45,583.49 L111.56,584.08 L110.68,584.66 L109.91,585.36 L109.17,586.05 L108.44,586.73 L107.73,587.38 L107.03,588.02 L106.36,588.64 L105.71,589.24 L105.08,589.82 L104.47,590.38 L103.88,590.91 L103.32,591.42 L102.79,591.91 L102.28,592.37 L102.72,593.03 L103.34,592.73 L103.99,592.41 L104.68,592.08 L105.39,591.73 L106.13,591.36 L106.90,590.98 L107.70,590.58 L108.52,590.17 L109.36,589.75 L110.23,589.32 L111.12,588.87 L112.03,588.41 L112.96,587.94 L113.81,587.32 L114.67,586.68 L115.55,586.04 L116.45,585.38 L117.35,584.72 L118.27,584.04 L119.20,583.36 L120.14,582.66 L121.08,581.97 L122.04,581.26 L123.00,580.55 L123.97,579.84 L124.94,579.12 L125.92,578.40 L126.90,577.68 L127.88,576.95 L128.84,576.24 L131.02,574.69 L133.25,573.14 L135.52,571.59 L137.83,570.03 L140.17,568.48 L142.55,566.92 L144.95,565.36 L147.41,563.86 L149.89,562.36 L152.38,560.87 L154.87,559.37 L157.37,557.88 L159.86,556.38 L162.34,554.89 L164.81,553.39 L167.26,551.90 L169.68,550.41 L172.08,548.91 L174.45,547.42 L176.78,545.93 L179.07,544.44 L181.31,542.95 L183.50,541.46 L185.63,539.97 L187.70,538.48 L189.70,536.99 L191.64,535.51 L193.50,534.02 L195.28,532.53 L196.96,531.05Z" fill="#000"/>
<rect x="-17.0" y="-11.0" width="34" height="22" fill="#D4A302" transform="translate(203.3,521.1) rotate(30)"/>
<rect x="-17.0" y="-11.0" width="34" height="22" fill="#D4A302" transform="translate(246.1,521.8) rotate(-30)"/>
<rect x="-17.0" y="-11.0" width="34" height="22" fill="#D4A302" transform="translate(202.9,560.6) rotate(30)"/>
<rect x="-17.0" y="-11.0" width="34" height="22" fill="#D4A302" transform="translate(246.8,561.4) rotate(-30)"/>
<g transform="translate(203.1,482.3) rotate(30)"><rect x="-17.0" y="-11.0" width="34" height="22" fill="#F2363A"/><rect x="-13.0" y="-7.0" width="26" height="14" fill="#D4A302"/></g>
<g transform="translate(246.4,482.9) rotate(-30)"><rect x="-17.0" y="-11.0" width="34" height="22" fill="#F2363A"/><rect x="-13.0" y="-7.0" width="26" height="14" fill="#D4A302"/></g>
<path d="M130.49,576.88 L129.38,572.99 L128.27,569.11 L127.16,565.23 L126.03,561.36 L124.90,557.48 L123.77,553.61 L122.62,549.73 L121.48,545.86 L120.33,541.99 L119.17,538.12 L118.01,534.26 L116.84,530.39 L115.67,526.53 L114.50,522.66 L113.32,518.80 L112.13,514.94 L110.94,511.08 L109.75,507.22 L108.55,503.37 L107.35,499.51 L106.14,495.66 L104.93,491.80 L103.72,487.95 L102.50,484.10 L102.50,484.10 L103.48,488.02 L104.46,491.94 L105.44,495.85 L106.43,499.77 L107.43,503.68 L108.43,507.60 L109.43,511.51 L110.44,515.42 L111.45,519.33 L112.46,523.24 L113.48,527.14 L114.51,531.05 L115.54,534.95 L116.57,538.86 L117.61,542.76 L118.66,546.66 L119.71,550.56 L120.76,554.45 L121.82,558.35 L122.89,562.24 L123.96,566.14 L125.04,570.03 L126.12,573.92 L127.22,577.80Z" fill="#000"/>
<ellipse cx="129.3" cy="578.8" rx="7.5" ry="2.9" transform="rotate(-105.8 129.3 578.8)" fill="#000"/>
<ellipse cx="129.1" cy="578.3" rx="4.9" ry="1.0" transform="rotate(-105.8 129.1 578.3)" fill="#fff"/>
<path d="M587.9,562.3 C586,555 582,549 574.7,546.1 C568,543.2 556,538.5 545,534 C535,530 525,525.5 518.2,519.4 C512,512 509,500 508.8,492 L510,470 C511.7,456 512,440 508,436 C502,432 490,433 482,442 C476,450 472.6,458.9 472.6,470 C473,490 476,500 475,510 C474,525 472,535 470,550 C468,562 466,572 462.7,578.4 C458,586 450,592 437.8,592.2 C428,592 420,588 416.5,581 C413.5,574 414,566 415,558 C416,550 418,544 420.7,539.1 C424,531 428,522 434,518 C440,514.5 446,514 450,514.5" fill="none" stroke="#000" stroke-width="2.2" stroke-linecap="round" stroke-linejoin="round"/>
<rect x="-17.0" y="-11.0" width="34" height="22" fill="#D4A302" transform="translate(467.2,471) rotate(30)"/>
<rect x="-17.0" y="-11.0" width="34" height="22" fill="#D4A302" transform="translate(510.2,472.2) rotate(-30)"/>
<rect x="-17.0" y="-11.0" width="34" height="22" fill="#D4A302" transform="translate(467.4,510.2) rotate(30)"/>
<rect x="-17.0" y="-11.0" width="34" height="22" fill="#D4A302" transform="translate(509.2,510.9) rotate(-30)"/>
<rect x="-17.0" y="-11.0" width="34" height="22" fill="#D4A302" transform="translate(467.4,550.7) rotate(30)"/>
<rect x="-17.0" y="-11.0" width="34" height="22" fill="#D4A302" transform="translate(510.2,550.5) rotate(-30)"/>
<g transform="translate(432,531.4) rotate(30)"><rect x="-17.0" y="-11.0" width="34" height="22" fill="#F2363A"/><rect x="-13.0" y="-7.0" width="26" height="14" fill="#D4A302"/></g>
<path d="M745,424 C755,437 768,455 779,475 C787,492 787,508 785,520 C783,530 778,540 770,546 C762,553 757.5,562 757.2,570 C757,578 757,590 764.4,598.5 C768,602 772,603 776.5,602.9 C782,603 786,602 788.7,600.7 C795,597 800,593 803,587.5 C806,582 809,577 809.7,572 C811,562 812.4,552 812.4,540 L815,470 C815,460 820,452 830,450.5 C840,449.5 850,452 853,460 C855,468 853,480 852,500 L849,540 C849,552 852,565 858,570 C864,575 872,575 882,572 C890,569 896,562 897,552 C898,545 895,538 890,533 C885,528 878,524 871.6,521.1" fill="none" stroke="#000" stroke-width="2.2" stroke-linecap="round" stroke-linejoin="round"/>
<path d="M738.46,419.08 L738.98,419.60 L739.51,420.12 L740.05,420.66 L740.59,421.20 L741.14,421.76 L741.69,422.32 L742.25,422.90 L742.82,423.49 L743.39,424.09 L743.96,424.70 L744.54,425.32 L745.12,425.95 L745.71,426.60 L746.30,427.25 L746.89,427.91 L747.49,428.59 L748.09,429.28 L748.69,429.97 L749.30,430.68 L749.91,431.40 L750.52,432.12 L751.13,432.86 L751.75,433.61 L752.37,434.37 L752.99,435.14 L753.61,435.92 L754.23,436.70 L754.85,437.50 L755.48,438.31 L756.10,439.14 L757.90,437.86 L757.32,437.00 L756.75,436.14 L756.17,435.29 L755.60,434.45 L755.02,433.62 L754.45,432.80 L753.87,431.99 L753.30,431.19 L752.73,430.40 L752.16,429.62 L751.59,428.85 L751.02,428.09 L750.46,427.35 L749.89,426.61 L749.33,425.89 L748.78,425.17 L748.22,424.47 L747.67,423.77 L747.12,423.09 L746.57,422.42 L746.03,421.76 L745.49,421.11 L744.96,420.47 L744.43,419.84 L743.90,419.23 L743.38,418.62 L742.86,418.03 L742.35,417.44 L741.84,416.87 L741.34,416.32Z" fill="#000"/>
<rect x="-17.0" y="-11.0" width="34" height="22" fill="#D4A302" transform="translate(810.7,479.7) rotate(30)"/>
<rect x="-17.0" y="-11.0" width="34" height="22" fill="#D4A302" transform="translate(853.9,480.6) rotate(-30)"/>
<rect x="-17.0" y="-11.0" width="34" height="22" fill="#D4A302" transform="translate(810.7,519) rotate(30)"/>
<rect x="-17.0" y="-11.0" width="34" height="22" fill="#D4A302" transform="translate(852.9,519.2) rotate(-30)"/>
<rect x="-17.0" y="-11.0" width="34" height="22" fill="#D4A302" transform="translate(775.4,538.9) rotate(30)"/>
<rect x="-17.0" y="-11.0" width="34" height="22" fill="#D4A302" transform="translate(810.7,558.2) rotate(30)"/>
<rect x="-17.0" y="-11.0" width="34" height="22" fill="#D4A302" transform="translate(853.7,558.8) rotate(-30)"/>
<g transform="translate(890.5,539.7) rotate(-30)"><rect x="-17.0" y="-11.0" width="34" height="22" fill="#F2363A"/><rect x="-13.0" y="-7.0" width="26" height="14" fill="#D4A302"/></g>
<text x="736" y="690.6" font-family="Liberation Sans, sans-serif" font-size="9" fill="#4841A4" stroke="#4841A4" stroke-width="0.25" textLength="251" lengthAdjust="spacingAndGlyphs">@ Beadclub.dk Personal use only. Not for distribution or resale.</text>
</svg>
</body></html>
